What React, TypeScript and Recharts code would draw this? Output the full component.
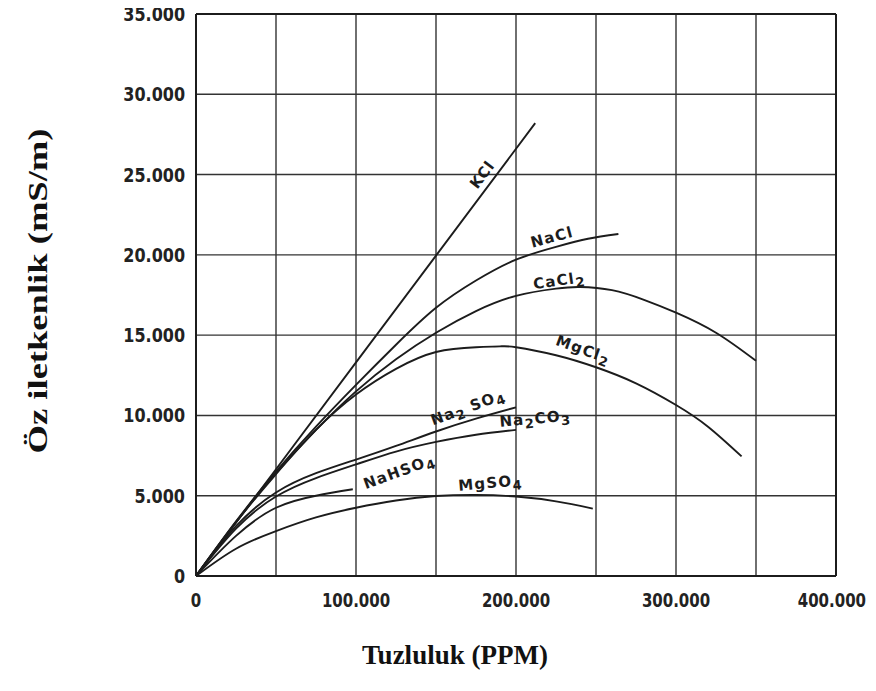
import React from 'react';
import { LineChart, Line, XAxis, YAxis, CartesianGrid, ReferenceDot, ReferenceLine } from 'recharts';

// Axis ticks
const xTicks = [0, 50000, 100000, 150000, 200000, 250000, 300000, 350000, 400000];
const xTickLabels = ['0', '', '100.000', '', '200.000', '', '300.000', '', '400.000'];
const yTicks = [0, 5000, 10000, 15000, 20000, 25000, 30000, 35000];
const yTickLabels = ['0', '5.000', '10.000', '15.000', '20.000', '25.000', '30.000', '35.000'];

// Series: [salinity ppm, conductivity mS/m]
const KCl: [number, number][] = [[0, 0], [50000, 6650], [100000, 13300], [150000, 19950], [212000, 28200]];
const NaCl: [number, number][] = [[0, 0], [25000, 3400], [50000, 6500], [75000, 9300], [100000, 11900], [125000, 14400], [150000, 16700], [175000, 18400], [200000, 19700], [225000, 20500], [245000, 21000], [264000, 21300]];
const CaCl2: [number, number][] = [[0, 0], [25000, 3350], [50000, 6400], [75000, 9100], [100000, 11500], [125000, 13500], [150000, 15150], [175000, 16500], [200000, 17450], [225000, 17900], [240000, 18000], [260000, 17800], [280000, 17200], [300000, 16400], [325000, 15150], [350000, 13400]];
const MgCl2: [number, number][] = [[0, 0], [25000, 3350], [50000, 6350], [75000, 9100], [100000, 11300], [125000, 12900], [150000, 13950], [175000, 14250], [190000, 14300], [200000, 14250], [225000, 13750], [250000, 13000], [275000, 12000], [300000, 10650], [320000, 9300], [341000, 7450]];
const Na2SO4: [number, number][] = [[0, 0], [25000, 3100], [50000, 5200], [75000, 6400], [100000, 7250], [125000, 8100], [150000, 9000], [175000, 9800], [200000, 10500]];
const Na2CO3: [number, number][] = [[0, 0], [25000, 2950], [50000, 4950], [75000, 6100], [100000, 6950], [125000, 7750], [150000, 8350], [175000, 8800], [200000, 9100]];
const NaHSO4: [number, number][] = [[0, 0], [25000, 2500], [50000, 4250], [75000, 5000], [98000, 5400]];
const MgSO4: [number, number][] = [[0, 0], [25000, 1700], [50000, 2800], [75000, 3650], [100000, 4250], [125000, 4700], [150000, 4980], [175000, 5050], [200000, 4950], [225000, 4650], [248000, 4200]];

const seriesList = [KCl, NaCl, CaCl2, MgCl2, Na2SO4, Na2CO3, NaHSO4, MgSO4];
const straightSeries = [true, false, false, false, false, false, false, false];

// Curve labels: [base, subscript1, middle, subscript2]
const curveLabelText: string[][] = [
  ['KCl', '', '', ''],
  ['NaCl', '', '', ''],
  ['CaCl', '2', '', ''],
  ['MgCl', '2', '', ''],
  ['Na', '2', ' SO', '4'],
  ['Na', '2', 'CO', '3'],
  ['NaHSO', '4', '', ''],
  ['MgSO', '4', '', ''],
];
const curveLabelPos: [number, number][] = [
  [179000, 25000], [222500, 21100], [227000, 18400], [242000, 14100],
  [170000, 10500], [212000, 9800], [127000, 6500], [184000, 5800],
];
const curveLabelAngle = [-53, -15, -8, 20, -20, -5, -20, -5];

const toPts = (arr: [number, number][]) => arr.map(([ppm, ec]) => ({ ppm, ec }));

const INK = '#1c1c1c';
const TICK_FONT = '"DejaVu Sans", sans-serif';
const RIGHT_LIMIT = 866;
const X_TICK_SIZE = 15;
const Y_TICK_SIZE = 16;

// approximate DejaVu Sans Bold advance widths (em)
const textWidth = (s: string, size: number) =>
  s.split('').reduce((w, c) => w + (c === '.' ? 0.38 : 0.696), 0) * size;

const XTick = (props: any) => {
  const { x, y, payload } = props;
  const i = xTicks.indexOf(payload.value);
  const label = i >= 0 ? xTickLabels[i] : '';
  if (!label) return null;
  const w = textWidth(label, X_TICK_SIZE);
  const overflow = x + w / 2 > RIGHT_LIMIT;
  const tx = overflow ? RIGHT_LIMIT : x;
  return (
    <g transform={`translate(${tx},${y}) scale(1,1.3)`}>
      <text
        x={0}
        y={0}
        dy="0.71em"
        textAnchor={overflow ? 'end' : 'middle'}
        fontFamily={TICK_FONT}
        fontWeight="bold"
        fontSize={X_TICK_SIZE}
        fill="#222"
      >
        {label}
      </text>
    </g>
  );
};

const YTick = (props: any) => {
  const { x, y, payload } = props;
  const i = yTicks.indexOf(payload.value);
  const label = i >= 0 ? yTickLabels[i] : '';
  return (
    <g transform={`translate(${x},${y}) scale(1,1.22)`}>
      <text
        x={0}
        y={0}
        dy="0.36em"
        textAnchor="end"
        fontFamily={TICK_FONT}
        fontWeight="bold"
        fontSize={Y_TICK_SIZE}
        fill="#222"
      >
        {label}
      </text>
    </g>
  );
};

const makeCurveLabel = (idx: number) => (props: any) => {
  const vb = props.viewBox || {};
  const cx = (vb.x || 0) + (vb.width || 0) / 2;
  const cy = (vb.y || 0) + (vb.height || 0) / 2;
  const [a, s1, b, s2] = curveLabelText[idx];
  return (
    <text
      x={cx}
      y={cy}
      textAnchor="middle"
      dominantBaseline="central"
      transform={`rotate(${curveLabelAngle[idx]} ${cx} ${cy})`}
      fontFamily='"DejaVu Sans", sans-serif'
      fontSize={15}
      fontWeight="bold"
      letterSpacing={1.2}
      fill={INK}
    >
      {a}
      {s1 ? <tspan dy={4} fontSize={13}>{s1}</tspan> : null}
      {b ? <tspan dy={-4}>{b}</tspan> : null}
      {s2 ? <tspan dy={4} fontSize={13}>{s2}</tspan> : null}
    </text>
  );
};

export default function App() {
  return (
    <div style={{ width: 876, height: 691, marginLeft: -8, marginTop: -8, marginBottom: -8 }}>
      <LineChart width={876} height={691} margin={{ top: 14, right: 40, left: 0, bottom: 0 }}>
        <CartesianGrid stroke="#333" strokeWidth={1.4} />
        <XAxis
          type="number"
          dataKey="ppm"
          domain={[0, 400000]}
          ticks={xTicks}
          interval={0}
          allowDataOverflow
          height={115}
          tickLine={false}
          tickMargin={11}
          axisLine={{ stroke: INK, strokeWidth: 2 }}
          tick={<XTick />}
          label={{
            content: () => (
              <text x={455} y={655} textAnchor="middle" dominantBaseline="central" fontFamily='"Liberation Serif", "Times New Roman", serif' fontWeight="bold" fontSize={27} fill="#111">
                Tuzluluk (PPM)
              </text>
            ),
          }}
        />
        <YAxis
          type="number"
          dataKey="ec"
          domain={[0, 35000]}
          ticks={yTicks}
          interval={0}
          allowDataOverflow
          width={196}
          tickLine={false}
          tickMargin={5}
          axisLine={{ stroke: INK, strokeWidth: 2 }}
          tick={<YTick />}
          label={{
            content: () => (
              <text
                x={37}
                y={291}
                textAnchor="middle"
                dominantBaseline="central"
                transform="rotate(-90 37 291)"
                fontFamily='"Liberation Serif", "Times New Roman", serif'
                fontWeight="bold"
                fontSize={28}
                textLength={325}
                lengthAdjust="spacingAndGlyphs"
                fill="#111"
              >
                Öz iletkenlik (mS/m)
              </text>
            ),
          }}
        />
        <ReferenceLine x={400000} stroke={INK} strokeWidth={2} />
        <ReferenceLine y={35000} stroke={INK} strokeWidth={2} />
        {seriesList.map((s, i) => (
          <Line
            key={i}
            data={toPts(s)}
            dataKey="ec"
            type={straightSeries[i] ? 'linear' : 'natural'}
            stroke={INK}
            strokeWidth={1.9}
            dot={false}
            activeDot={false}
            isAnimationActive={false}
          />
        ))}
        {curveLabelPos.map(([px, py], i) => (
          <ReferenceDot
            key={'lbl' + i}
            x={px}
            y={py}
            r={1}
            fill="none"
            stroke="none"
            label={{ content: makeCurveLabel(i) }}
          />
        ))}
      </LineChart>
    </div>
  );
}
